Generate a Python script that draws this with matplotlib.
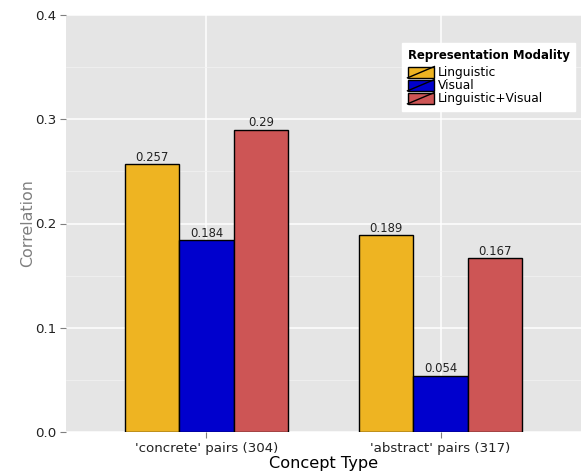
import matplotlib
matplotlib.use("Agg")
import matplotlib.pyplot as plt
from matplotlib.patches import Rectangle
from matplotlib.lines import Line2D
from matplotlib.legend_handler import HandlerBase
import numpy as np

plt.rcParams['font.family'] = ['DejaVu Sans']

categories = ["'concrete' pairs (304)", "'abstract' pairs (317)"]
series = ["Linguistic", "Visual", "Linguistic+Visual"]
values = {
    "Linguistic": [0.257, 0.189],
    "Visual": [0.184, 0.054],
    "Linguistic+Visual": [0.290, 0.167],
}
labels = {
    "Linguistic": ["0.257", "0.189"],
    "Visual": ["0.184", "0.054"],
    "Linguistic+Visual": ["0.29", "0.167"],
}
colors = ["#EEB422", "#0000CD", "#CD5555"]
yticks = [0.0, 0.1, 0.2, 0.3, 0.4]

W, H = 581, 475
fig = plt.figure(figsize=(W / 100, H / 100), dpi=100)
ax = fig.add_axes([66 / W, 43 / H, (581 - 66) / W, (432 - 15) / H])
ax.set_facecolor("#E5E5E5")
for s in ax.spines.values():
    s.set_visible(False)

x = np.arange(1, len(categories) + 1)
bw = 0.7 / 3
for i, (name, c) in enumerate(zip(series, colors)):
    xs = x + (i - 1) * bw
    ax.bar(xs, values[name], width=bw, color=c, edgecolor="black", linewidth=1.0, zorder=3)
    for xi, v, lab in zip(xs, values[name], labels[name]):
        ax.text(xi, v + 0.0003, lab, ha="center", va="bottom", fontsize=8.4, color="#222222", zorder=4)

ax.set_xlim(0.4, 2.6)
ax.set_ylim(0, 0.4)
ax.set_yticks(yticks)
ax.set_yticklabels([f"{t:.1f}" for t in yticks])
ax.set_yticks(np.arange(0.05, 0.4, 0.1), minor=True)
ax.set_xticks(x)
ax.set_xticklabels(categories)
ax.grid(True, which="major", color="white", linewidth=1.1, zorder=0)
ax.grid(True, which="minor", axis="y", color="#F2F2F2", linewidth=0.5, zorder=0)
ax.set_axisbelow(True)
ax.tick_params(axis="both", which="major", length=4, width=0.8, color="#7F7F7F",
               labelsize=9.6, labelcolor="#222222", pad=3)
ax.tick_params(axis="both", which="minor", length=0)
ax.set_xlabel("Concept Type", fontsize=11.6, color="black", labelpad=1)
ax.set_ylabel("Correlation", fontsize=11.4, color="#7F7F7F", labelpad=0)


class SlashHandler(HandlerBase):
    def create_artists(self, legend, orig_handle, xdescent, ydescent, width, height, fontsize, trans):
        r = Rectangle((-xdescent, -ydescent), width, height, facecolor=orig_handle.get_facecolor(),
                      edgecolor="black", linewidth=1.0, transform=trans)
        l = Line2D([-xdescent, -xdescent + width], [-ydescent, -ydescent + height],
                   color="black", linewidth=1.0, transform=trans)
        return [r, l]


handles = [Rectangle((0, 0), 1, 1, facecolor=c) for c in colors]
leg = ax.legend(handles, series, title="Representation Modality",
                handler_map={Rectangle: SlashHandler()},
                loc="upper left", bbox_to_anchor=((402 - 66) / (581 - 66), 1 - (43 - 15) / (432 - 15)),
                fontsize=8.8, title_fontproperties={"weight": "bold", "size": 8.4},
                frameon=True, fancybox=False, edgecolor="white", facecolor="white", framealpha=1,
                handlelength=2.2, handleheight=1.05, handletextpad=0.3, labelspacing=0.0,
                borderpad=0.45, borderaxespad=0)
leg._legend_box.align = "left"
leg._legend_box.sep = 3.5
leg.set_zorder(5)

fig.savefig("out.png", dpi=100)
